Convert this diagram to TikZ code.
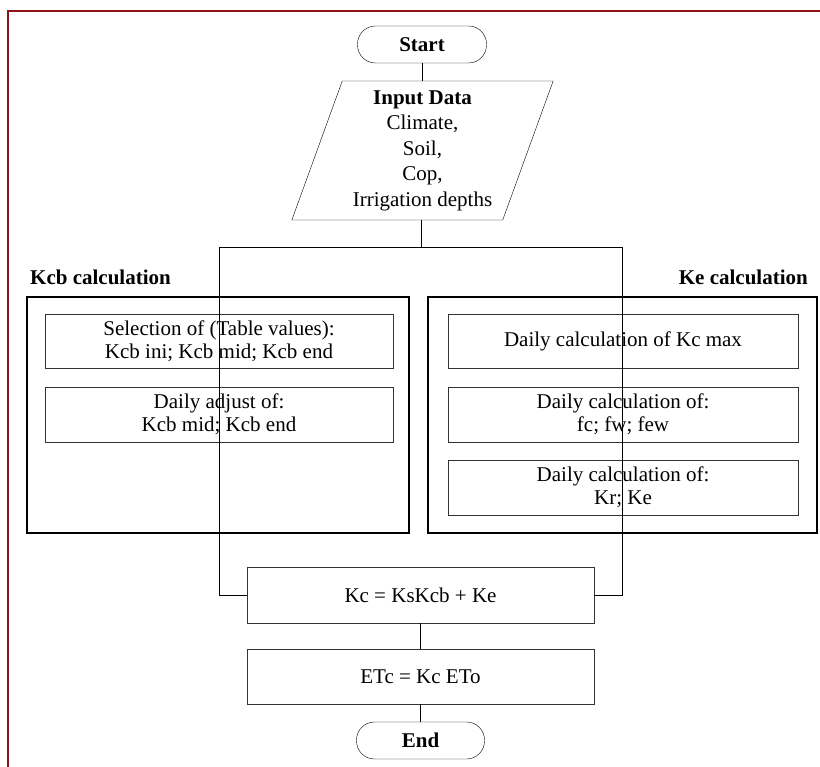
\documentclass[tikz,border=0pt]{standalone}
\usepackage{fontspec}
\setmainfont{Liberation Serif}
\usepackage{xcolor}
\usepackage{tikz}
\usetikzlibrary{shapes.geometric}

\definecolor{framered}{RGB}{140,20,20}

\begin{document}
\begin{tikzpicture}[x=1pt,y=-1pt,
    every node/.style={font=\fontsize{21}{23}\selectfont,align=center,inner sep=0pt},
    terminal/.style={draw,rounded corners=18pt,minimum width=129pt,minimum height=37pt,font=\fontsize{21}{23}\selectfont\bfseries},
    stepbox/.style={draw=black!80,minimum height=55pt},
    group/.style={draw,line width=2.5pt,minimum height=236pt},
    title/.style={font=\fontsize{21}{23}\selectfont\bfseries}]
    \useasboundingbox (0,0) rectangle (820,767);
    \draw[framered,line width=1.5pt] (8,767) -- (8,11) -- (820,11);

    \node[terminal] (start) at (422,44.5) {Start};
    \node[draw,trapezium,trapezium left angle=70,trapezium right angle=110,trapezium stretches=true,
      minimum width=262pt,minimum height=139pt,font=\fontsize{21}{25.5}\selectfont] (input) at (422.5,150.5)
      {\textbf{Input Data}\\Climate,\\Soil,\\Cop,\\Irrigation depths};

    \node[title,anchor=west] (kcbtitle) at (30,277) {Kcb calculation};
    \node[title,anchor=east] (ketitle) at (808,277) {Ke calculation};
    \node[group,minimum width=382pt] (kcbgroup) at (218,415) {};
    \node[group,minimum width=389pt] (kegroup) at (622.5,415) {};

    \node[stepbox,minimum width=348pt,minimum height=54pt] (select) at (219,341) {Selection of (Table values):\\Kcb ini; Kcb mid; Kcb end};
    \node[stepbox,minimum width=348pt] (adjust) at (219,414.5) {Daily adjust of:\\Kcb mid; Kcb end};

    \node[stepbox,minimum width=350pt,minimum height=54pt] (kcmax) at (623,341) {Daily calculation of Kc max};
    \node[stepbox,minimum width=350pt] (fcfw) at (623,414.5) {Daily calculation of:\\fc; fw; few};
    \node[stepbox,minimum width=350pt] (krke) at (623,487.5) {Daily calculation of:\\Kr; Ke};

    \node[stepbox,minimum width=347pt,minimum height=56pt] (kc) at (420.5,595) {Kc = KsKcb + Ke};
    \node[stepbox,minimum width=347pt] (etc) at (420.5,676.5) {ETc = Kc ETo};
    \node[terminal,minimum width=128pt] (end) at (420.5,740.5) {End};

    \coordinate (split) at (421,247);
    \coordinate (kcbtop) at (219,247);
    \coordinate (ketop) at (622,247);

    \draw (start.south) -- (start.south |- input.north);
    \draw (split |- input.south) -- (split);
    \draw (kcbtop) -- (ketop);
    \draw (kcbtop) |- (kc.west);
    \draw (ketop) |- (kc.east);
    \draw (kc) -- (etc);
    \draw (etc) -- (end);
  \end{tikzpicture}
\end{document}
